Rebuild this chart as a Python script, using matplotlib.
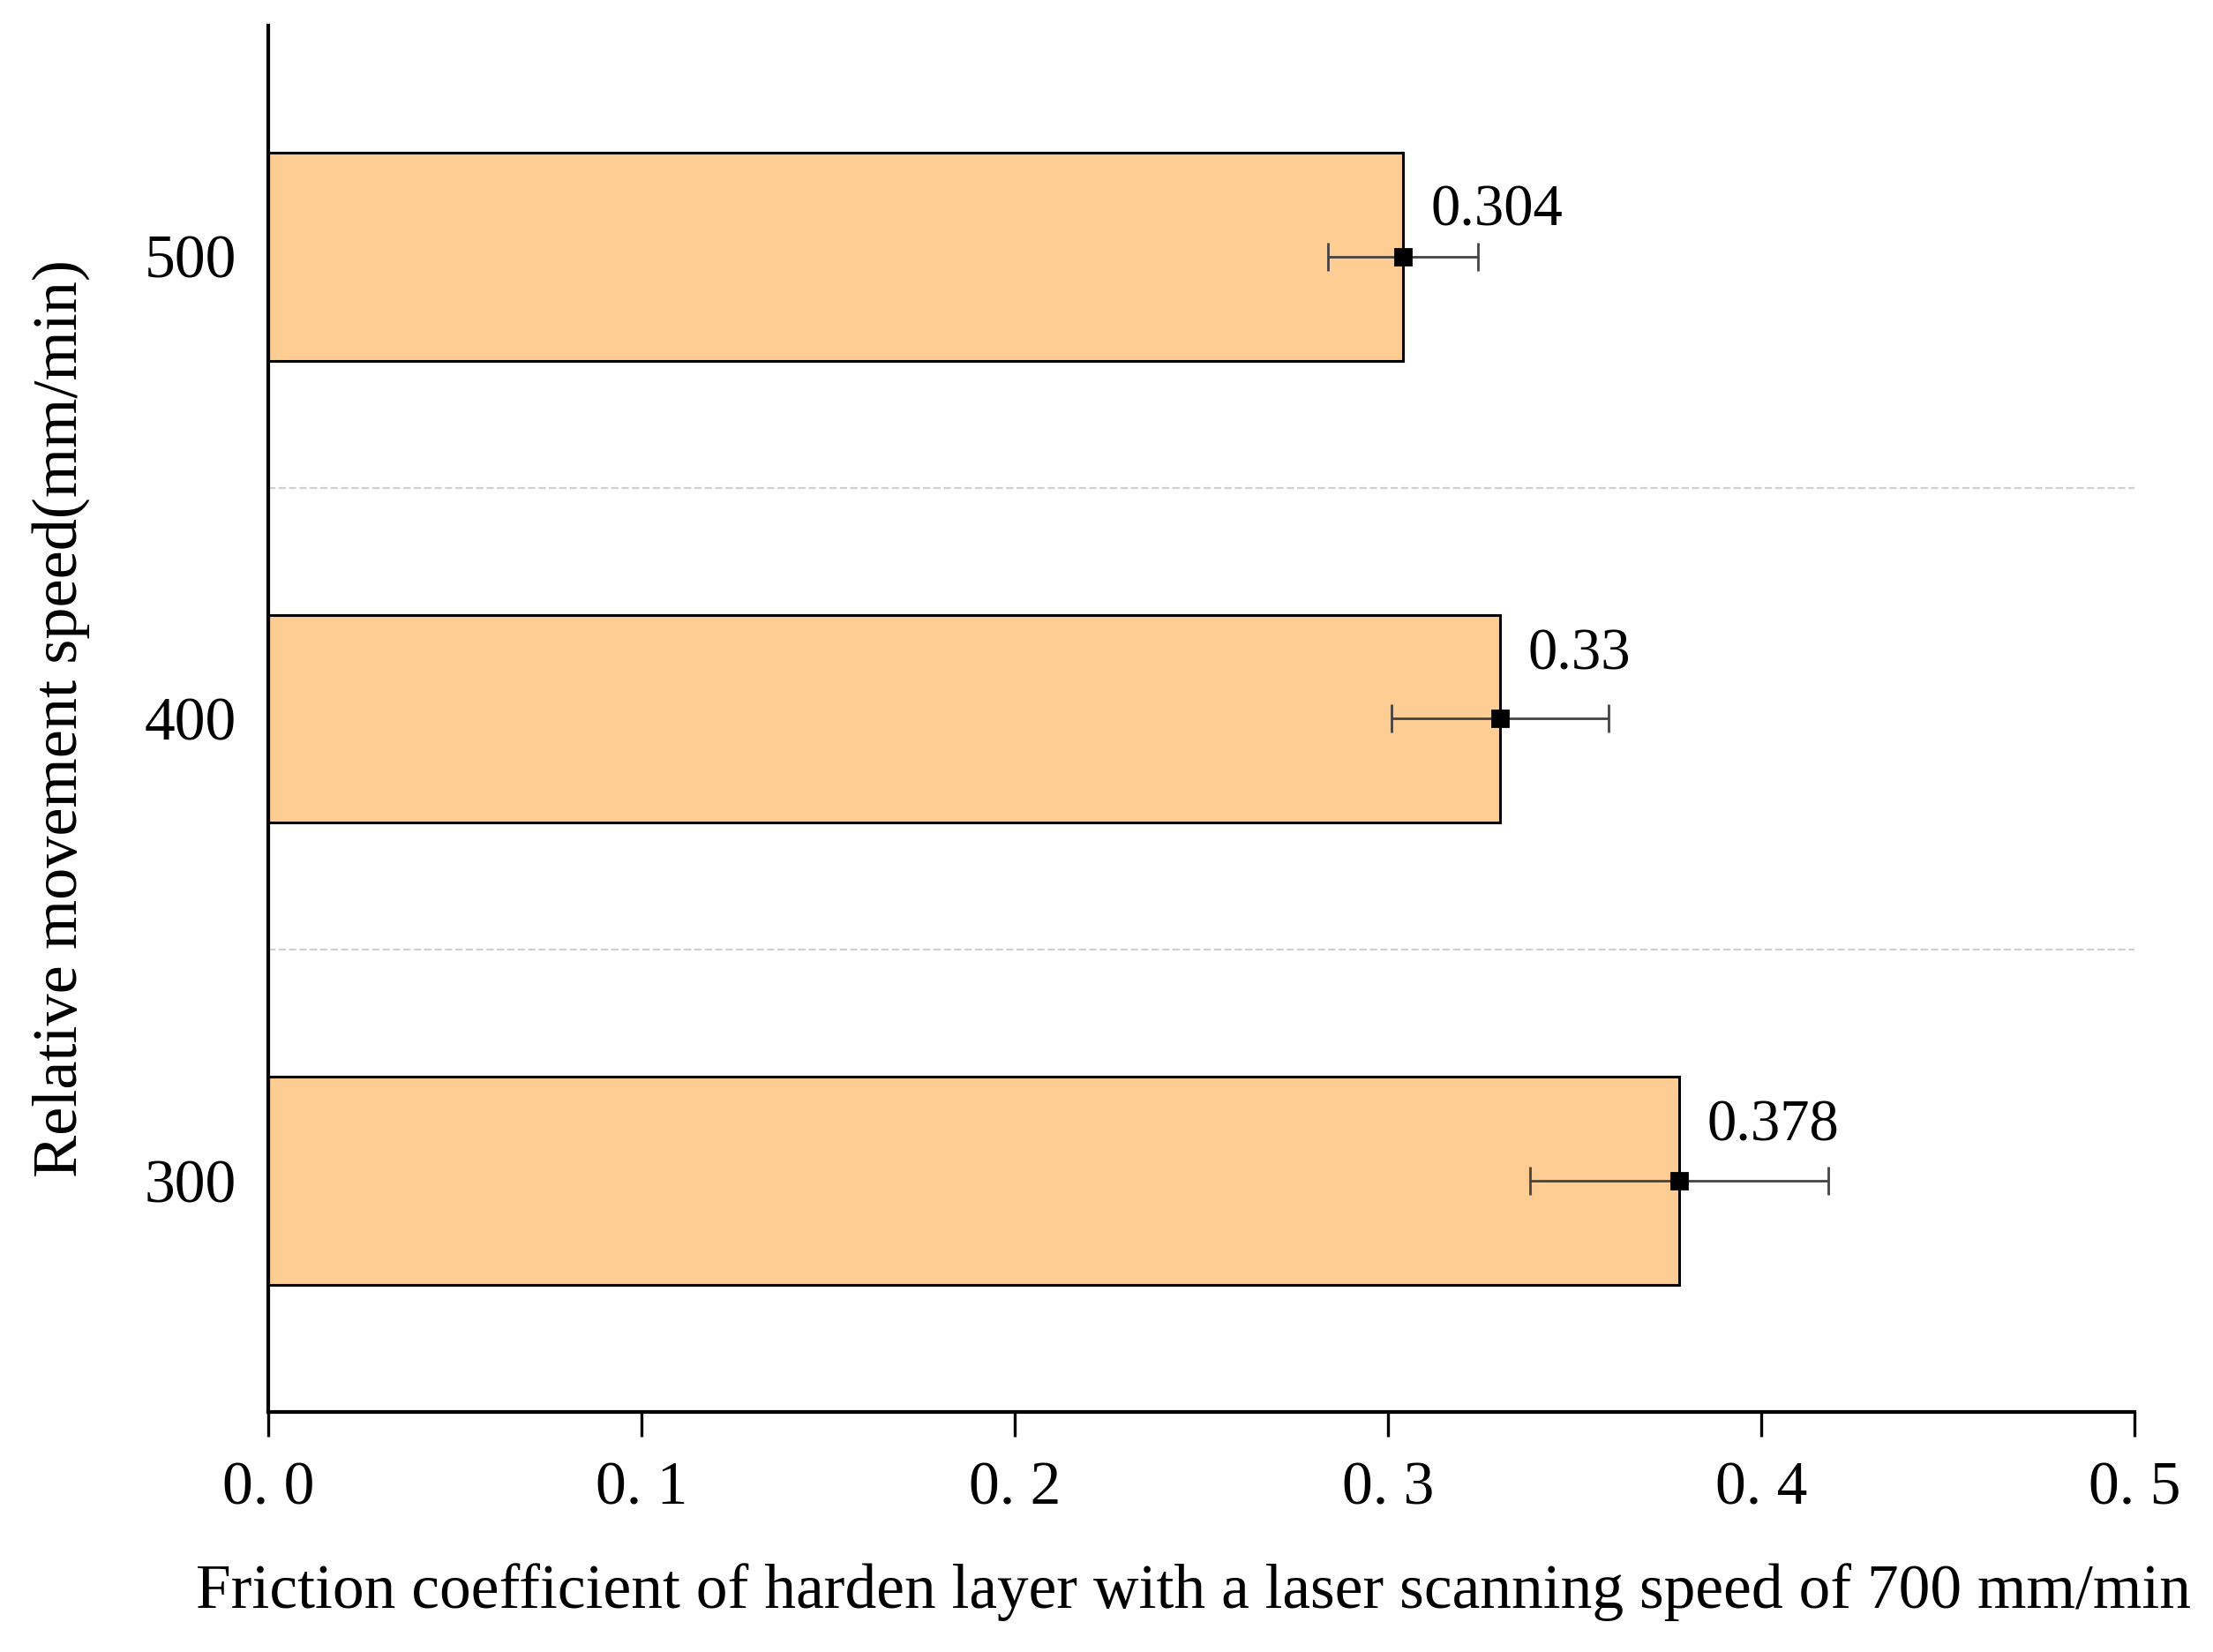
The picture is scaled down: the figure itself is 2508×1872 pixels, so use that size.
import matplotlib.pyplot as plt
import matplotlib.ticker as ticker

plt.rcParams['font.family'] = ['Liberation Serif', 'DejaVu Serif']
plt.rcParams['font.size'] = 25

# data
speeds = [300, 400, 500]
friction = [0.378, 0.33, 0.304]
errors = [0.040, 0.029, 0.020]
xticks = [0.0, 0.1, 0.2, 0.3, 0.4, 0.5]
xticklabels = ['0. 0', '0. 1', '0. 2', '0. 3', '0. 4', '0. 5']

bar_color = '#FECD94'
# vertical nudge of each value label (data units), as placed in the original
label_dy = [6, 8, 4]

fig = plt.figure(figsize=(12.54, 9.36), dpi=200)
ax = fig.add_axes([0.1212, 0.1453, 0.9646 - 0.1212, 0.9846 - 0.1453])

ax.barh(speeds, friction, height=45, color=bar_color, edgecolor='black', linewidth=1.1, zorder=2)
ax.errorbar(friction, speeds, xerr=errors, fmt='s', color='black', markersize=6.5,
            ecolor='#444444', elinewidth=1.0, capsize=5.8, capthick=1.0, zorder=3)

for v, s, dy in zip(friction, speeds, label_dy):
    ax.text(v + 0.0075, s + dy, f'{v:g}', ha='left', va='bottom', fontsize=24)

ax.set_xlim(0, 0.5)
ax.set_ylim(250, 550)
ax.set_xticks(xticks)
ax.set_xticklabels(xticklabels)
ax.set_yticks(speeds)
ax.set_yticklabels([str(s) for s in speeds])

# dashed separators between bars
ax.yaxis.set_minor_locator(ticker.FixedLocator([350, 450]))
ax.grid(True, which='minor', axis='y', linestyle='--', color='#d0d0d0', linewidth=0.8, zorder=0)

for side in ['top', 'right']:
    ax.spines[side].set_visible(False)
ax.spines['left'].set_linewidth(1.5)
ax.spines['bottom'].set_linewidth(1.5)

ax.tick_params(axis='x', direction='out', length=10, width=1.2, pad=10)
ax.tick_params(axis='y', which='both', length=0, pad=13)

ax.set_xlabel('Friction coefficient of harden layer with a laser scanning speed of 700 mm/min',
              fontsize=25.7)
ax.xaxis.set_label_coords(0.4955, -0.130)
ax.xaxis.label.set_va('center')
ax.set_ylabel('Relative movement speed(mm/min)', fontsize=26, labelpad=22)

fig.savefig('out.png', dpi=200)
